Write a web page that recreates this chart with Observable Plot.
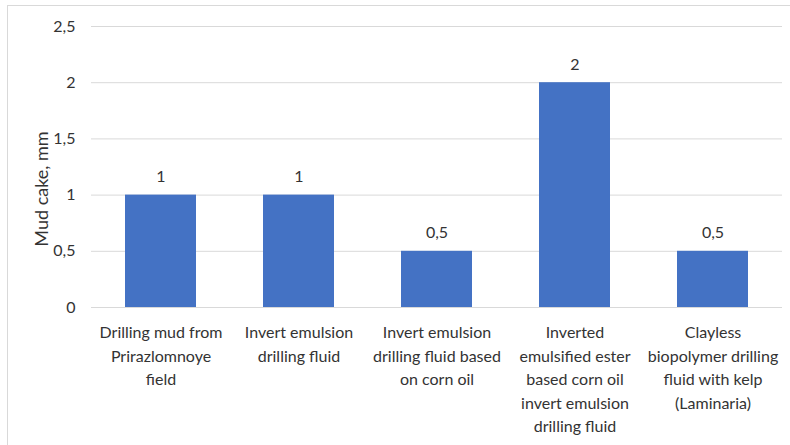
<!DOCTYPE html>
<html>
<head>
<meta charset="utf-8">
<script src="https://cdn.jsdelivr.net/npm/d3@7"></script>
<script src="https://cdn.jsdelivr.net/npm/@observablehq/plot@0.6"></script>
<style>
  html, body { margin: 0; padding: 0; background: #fff; }
  #chart { position: relative; width: 790px; height: 445px; overflow: hidden; }
  #chart .frame { position: absolute; left: 7px; top: 5px; width: 800px; height: 460px;
    border-left: 1.5px solid #d9d9d9; border-top: 1.5px solid #d9d9d9; box-sizing: border-box; }
  #chart svg { position: absolute; left: 0; top: 0; }
</style>
</head>
<body>
<div id="chart"><div class="frame"></div></div>
<script>
// Mud cake thickness for each drilling fluid
const categories = [
  "Drilling mud from\nPrirazlomnoye\nfield",
  "Invert emulsion\ndrilling fluid",
  "Invert emulsion\ndrilling fluid based\non corn oil",
  "Inverted\nemulsified ester\nbased corn oil\ninvert emulsion\ndrilling fluid",
  "Clayless\nbiopolymer drilling\nfluid with kelp\n(Laminaria)"
];
const mudCake = [1, 1, 0.5, 2, 0.5];
const yTicks = [0, 0.5, 1, 1.5, 2, 2.5];

const data = categories.map((c, i) => ({category: c, value: mudCake[i]}));
const fmt = v => String(v).replace(".", ",");

const font = "Lato, 'Open Sans', sans-serif";
const ink = "#333333";

const chart = Plot.plot({
  width: 790,
  height: 445,
  marginLeft: 91,
  marginRight: 8,
  marginTop: 26,
  marginBottom: 138,
  style: {fontFamily: font, fontSize: "16px", color: ink, background: "transparent"},
  x: {domain: categories, paddingInner: 0.485, paddingOuter: 0.2425, label: null},
  y: {domain: [0, 2.5], label: null},
  marks: [
    Plot.gridY(yTicks, {stroke: "#d9d9d9", strokeOpacity: 1, strokeWidth: 1}),
    Plot.barY(data, {x: "category", y: "value", fill: "#4472c4"}),
    Plot.text(data, {x: "category", y: "value", text: d => fmt(d.value), dy: -18,
      fontSize: 16, fill: ink}),
    Plot.axisY(yTicks, {tickFormat: fmt, tickSize: 0, tickPadding: 16, fontSize: 16,
      fill: ink, label: null}),
    Plot.text(["Mud cake, mm"], {frameAnchor: "left", textAnchor: "middle", dx: -49, dy: 22,
      rotate: -90, fontSize: 18, fill: ink}),
    Plot.axisX({tickSize: 0, tickPadding: 14, fontSize: 16, lineHeight: 1.47,
      fill: ink, label: null, textOverflow: null}),
    Plot.ruleY([0], {stroke: "#d9d9d9"})
  ]
});
document.getElementById("chart").appendChild(chart);
</script>
</body>
</html>
